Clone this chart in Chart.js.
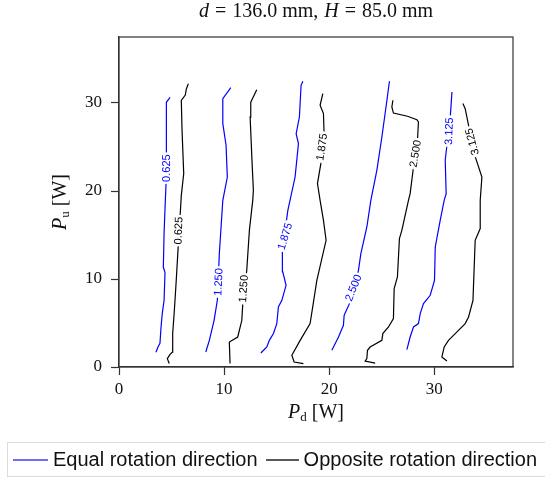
<!DOCTYPE html>
<html>
<head>
<meta charset="utf-8">
<script src="https://cdn.jsdelivr.net/npm/chart.js@4.4.1/dist/chart.umd.min.js"></script>
<style>
  html, body { margin: 0; padding: 0; background: #fff; }
  #wrap { position: relative; width: 545px; height: 477px; overflow: hidden; }
  #chart { position: absolute; left: 0; top: 0; }
  #legend {
    position: absolute; left: 7px; top: 442px; width: 560px; height: 33px;
    border: 1px solid #dcdcdc; border-right: none;
    font: 20px "Liberation Sans", Arial, sans-serif; color: #111;
    display: flex; align-items: center; white-space: nowrap;
  }
  .swatch { display: block; height: 2px; flex: none; }
</style>
</head>
<body>
<div id="wrap">
  <canvas id="chart" width="545" height="477"></canvas>
  <div id="legend"></div>
</div>
<script>
// contour lines of P_d / P_u, one list of [P_d, P_u] points per level
const levels = ['0.625', '1.250', '1.875', '2.500', '3.125'];

const equal0625 = [[3.52,1.67],[3.71,2.27],[3.90,2.69],[4.00,4.51],[4.12,6.10],[4.29,7.58],[4.38,10.76],[4.22,11.33],[4.29,15.19],[4.41,18.94],[4.48,20.88],[4.54,24.28],[4.48,30.08],[4.86,30.65]];
const equal1250 = [[8.26,1.70],[8.60,3.03],[9.05,5.31],[9.36,7.58],[9.55,12.89],[9.88,18.94],[10.31,21.59],[10.19,25.20],[9.88,27.66],[9.88,30.50],[10.64,31.75]];
const equal1875 = [[13.50,1.59],[14.07,2.27],[14.31,3.03],[14.70,3.80],[15.02,4.93],[15.17,6.82],[15.50,7.58],[15.90,9.28],[15.59,10.80],[15.55,13.26],[16.07,17.80],[16.76,21.59],[17.08,25.39],[16.86,26.52],[17.17,28.41],[17.33,32.01],[17.50,32.47]];
const equal2500 = [[20.26,1.90],[20.89,3.41],[21.36,4.74],[21.43,5.88],[21.93,7.20],[22.79,10.99],[23.02,12.89],[23.59,15.91],[23.97,18.94],[24.54,22.35],[25.02,26.14],[25.50,30.31],[25.74,32.47]];
const equal3125 = [[27.40,1.98],[27.71,3.41],[28.03,4.55],[28.50,4.93],[28.67,6.07],[28.98,7.20],[29.62,8.15],[30.03,9.85],[30.10,13.64],[30.57,16.67],[30.95,18.94],[31.14,19.70],[31.05,23.49],[31.21,25.20],[31.52,28.23],[31.69,31.25]];

const opp0625 = [[4.78,0.39],[4.60,0.95],[4.86,1.44],[5.08,1.70],[5.11,3.80],[5.27,6.44],[5.43,9.48],[5.65,14.02],[5.81,17.05],[5.93,19.50],[6.16,21.98],[6.00,26.90],[5.93,30.30],[6.31,30.90],[6.41,31.60],[6.60,32.20]];
const opp1250 = [[10.57,0.39],[10.50,2.84],[11.30,3.41],[11.69,5.31],[11.78,7.20],[12.16,10.99],[12.41,15.53],[12.73,18.94],[12.79,20.08],[12.67,23.11],[12.48,28.40],[12.54,30.10],[13.11,31.50]];
const opp1875 = [[17.55,0.39],[16.67,0.57],[16.45,1.33],[17.24,3.03],[18.19,4.93],[18.83,9.85],[19.71,14.40],[19.46,16.67],[19.14,18.94],[18.89,20.84],[19.21,23.11],[19.52,26.52],[19.46,28.80],[19.14,29.74],[19.40,31.07]];
const opp2500 = [[24.38,0.45],[23.43,0.68],[23.59,0.95],[23.65,1.90],[23.90,2.27],[25.02,3.03],[25.11,3.80],[25.65,4.55],[26.12,5.50],[26.19,8.91],[26.50,10.23],[26.69,14.59],[26.92,15.53],[27.55,18.94],[27.71,19.70],[28.03,22.73],[28.41,25.76],[28.50,27.84],[28.35,28.11],[27.46,28.49],[26.12,28.86],[25.97,29.55],[26.07,30.31]];
const opp3125 = [[31.21,0.68],[30.73,1.14],[30.95,2.27],[31.36,3.03],[32.00,3.80],[32.95,4.93],[33.27,5.68],[33.69,7.58],[33.90,14.40],[34.38,15.73],[34.38,18.94],[34.54,21.59],[33.81,24.25],[32.95,29.36],[32.73,29.93]];

const xTicks = [0, 10, 20, 30];
const yTicks = [0, 10, 20, 30];

const series = [
  { label: 'Equal rotation direction', color: '#0000ff', key: '#6e6eff', lines: [equal0625, equal1250, equal1875, equal2500, equal3125] },
  { label: 'Opposite rotation direction', color: '#000000', key: '#5a5a5a', lines: [opp0625, opp1250, opp1875, opp2500, opp3125] }
];

// where each inline level label sits on its line: [P_d, P_u, angle in degrees]
const labelSpots = [
  [[4.50, 22.6, -90], [9.46, 9.66, -87], [15.80, 14.85, -73], [22.30, 9.0, -68], [31.40, 26.8, -88]],
  [[5.65, 15.5, -88], [11.84, 8.9, -86], [19.30, 25.0, -82], [28.20, 24.25, -80], [33.60, 25.6, -105]]
];

const serif = '"Liberation Serif", "DejaVu Serif", serif';

const datasets = [];
series.forEach((s, si) => {
  s.lines.forEach((pts, li) => {
    datasets.push({
      label: s.label + ' ' + levels[li],
      data: pts.map(p => ({ x: p[0], y: p[1] })),
      showLine: true,
      borderColor: s.color,
      borderWidth: 1.2,
      pointRadius: 0,
      fill: false,
      tension: 0,
      levelLabel: levels[li],
      labelSpot: labelSpots[si][li]
    });
  });
});

// writes the level value across each line, blanking the line beneath it
const contourLabels = {
  id: 'contourLabels',
  afterDatasetsDraw(chart) {
    const ctx = chart.ctx;
    const xs = chart.scales.x, ys = chart.scales.y;
    ctx.save();
    ctx.font = '11px "Liberation Sans", Arial, sans-serif';
    ctx.textAlign = 'center';
    ctx.textBaseline = 'middle';
    chart.data.datasets.forEach(ds => {
      const [lx, ly, ang] = ds.labelSpot;
      const px = xs.getPixelForValue(lx), py = ys.getPixelForValue(ly);
      const w = ctx.measureText(ds.levelLabel).width;
      ctx.save();
      ctx.translate(px, py);
      ctx.rotate(ang * Math.PI / 180);
      ctx.fillStyle = '#fff';
      ctx.fillRect(-w / 2 - 2, -4, w + 4, 8);
      ctx.fillStyle = ds.borderColor;
      ctx.fillText(ds.levelLabel, 0, 0.5);
      ctx.restore();
    });
    ctx.restore();
  }
};

// draws a run of text pieces with mixed styles, centred on cx; gap adds space after a piece
function drawRuns(ctx, runs, cx, y) {
  let total = 0;
  runs.forEach(r => {
    ctx.font = r.font;
    r.w = ctx.measureText(r.text).width + (r.gap || 0);
    total += r.w;
  });
  let x = cx - total / 2;
  runs.forEach(r => {
    ctx.font = r.font;
    ctx.fillText(r.text, x, y + (r.dy || 0));
    x += r.w;
  });
}

const frameAndText = {
  id: 'frameAndText',
  afterDraw(chart) {
    const ctx = chart.ctx;
    const a = chart.chartArea;
    ctx.save();
    ctx.strokeStyle = '#333';
    ctx.lineWidth = 1.2;
    ctx.strokeRect(a.left, a.top, a.right - a.left, a.bottom - a.top);

    ctx.fillStyle = '#111';
    ctx.textBaseline = 'alphabetic';
    ctx.textAlign = 'left';
    const cx = (a.left + a.right) / 2;
    const it = 'italic 20px ' + serif, rm = '20px ' + serif, sub = '13px ' + serif;
    drawRuns(ctx, [
      { text: 'd', font: it, gap: 6 },
      { text: '=', font: rm, gap: 6 },
      { text: '136.0 mm,', font: rm, gap: 6 },
      { text: 'H', font: it, gap: 6 },
      { text: '=', font: rm, gap: 6 },
      { text: '85.0 mm', font: rm }
    ], cx, 17);

    drawRuns(ctx, [
      { text: 'P', font: it },
      { text: 'd', font: sub, dy: 3 },
      { text: ' [W]', font: rm }
    ], cx, 418);

    ctx.save();
    ctx.translate(66, (a.top + a.bottom) / 2);
    ctx.rotate(-Math.PI / 2);
    drawRuns(ctx, [
      { text: 'P', font: it },
      { text: 'u', font: sub, dy: 3 },
      { text: ' [W]', font: rm }
    ], 0, 0);
    ctx.restore();
    ctx.restore();
  }
};

const axisStyle = (ticks, pad) => ({
  type: 'linear',
  min: 0,
  max: 37.5,
  afterBuildTicks: scale => { scale.ticks = ticks.map(v => ({ value: v })); },
  ticks: {
    color: '#111',
    font: { family: serif, size: 17 },
    padding: pad,
    callback: v => String(v)
  },
  grid: {
    display: true,
    drawOnChartArea: false,
    drawTicks: true,
    tickLength: 8,
    tickColor: '#333',
    tickWidth: 1.2
  },
  border: { display: true, color: '#333', width: 1.2 }
});

const xAxis = axisStyle(xTicks, 4);
xAxis.afterFit = scale => { scale.height = 110; };
const yAxis = axisStyle(yTicks, 9);
yAxis.afterFit = scale => { scale.width = 119; };

new Chart(document.getElementById('chart'), {
  type: 'scatter',
  data: { datasets },
  options: {
    responsive: false,
    animation: false,
    layout: { padding: { top: 37, right: 32, left: 0, bottom: 0 } },
    plugins: {
      legend: { display: false },
      tooltip: { enabled: false }
    },
    scales: { x: xAxis, y: yAxis }
  },
  plugins: [contourLabels, frameAndText]
});

// legend strip below the plot
const legendEl = document.getElementById('legend');
series.forEach((s, i) => {
  const line = document.createElement('span');
  line.className = 'swatch';
  line.style.width = i === 0 ? '35px' : '33px';
  line.style.marginLeft = i === 0 ? '5px' : '8px';
  line.style.marginRight = '5px';
  line.style.background = s.key;
  const txt = document.createElement('span');
  txt.textContent = s.label;
  legendEl.appendChild(line);
  legendEl.appendChild(txt);
});
</script>
</body>
</html>
